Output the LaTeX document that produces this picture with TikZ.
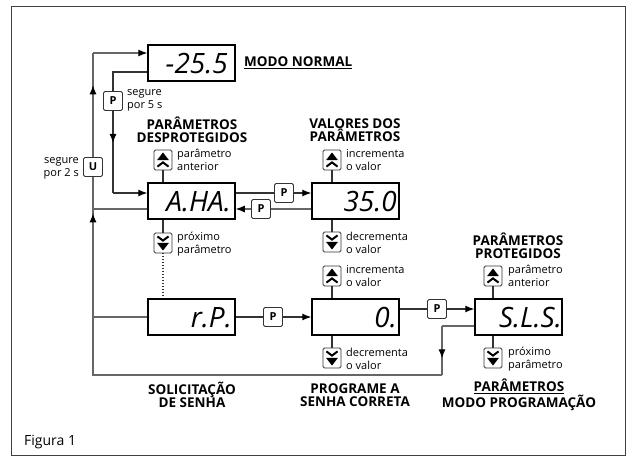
\documentclass[tikz,border=0pt]{standalone}
\usepackage{fontspec}
\setmainfont{Open Sans}
\usetikzlibrary{arrows.meta,decorations.markings}
\tikzset{
  disp/.style={draw=black, line width=1.5pt, minimum width=87pt, minimum height=36pt, inner sep=0pt},
  seg/.style={font=\fontsize{28}{28}\selectfont\itshape, anchor=base east, inner sep=0pt},
  conn/.style={draw=black!80, line width=1.1pt},
  ret/.style={draw=black!60, line width=1.1pt},
  arr/.style={-{Latex[length=9pt,width=7pt,color=black]}},
  marr/.style={postaction={decorate}, decoration={markings, mark=at position #1 with {\arrow{Latex[length=9pt,width=7pt,color=black]}}}},
  btn/.style={draw=black!80, fill=white, line width=0.8pt, rounded corners=1.5pt, minimum width=18pt, minimum height=20pt, inner sep=0pt},
  pbtn/.style={btn, minimum width=19pt, minimum height=19pt, font=\fontsize{11}{11}\selectfont\bfseries},
  upbtn/.style={btn, path picture={\begin{scope}[shift={(path picture bounding box.center)}, sharp corners]
      \fill[black] (-6,0.2) -- (6,0.2) -- (0,-7.5) -- cycle;
      \draw[black, line width=2pt, line join=miter] (-5.6,6.6) -- (0,2.4) -- (5.6,6.6);
    \end{scope}}},
  dnbtn/.style={btn, path picture={\begin{scope}[shift={(path picture bounding box.center)}, sharp corners]
      \fill[black] (-6,-0.2) -- (6,-0.2) -- (0,7.5) -- cycle;
      \draw[black, line width=2pt, line join=miter] (-5.6,-6.6) -- (0,-2.4) -- (5.6,-6.6);
    \end{scope}}},
  lbl/.style={anchor=west, align=left, font=\fontsize{11}{13}\selectfont, inner sep=0pt},
  hd/.style={align=center, font=\fontsize{13.5}{13.5}\selectfont\bfseries, inner sep=0pt},
}
\begin{document}
\begin{tikzpicture}[x=1pt,y=-1pt]
\useasboundingbox (0,0) rectangle (632,457);
\draw[black!75, line width=1pt] (11,7) rectangle (625,455);

% displays
\node[disp] (n25) at (191.5,63) {};
\node[seg] at (228,73.5) {-25.5};
\node[disp] (nAHA) at (191.5,201) {};
\node[seg] at (231,211.5) {A.HA.};
\node[disp] (n350) at (355.5,201) {};
\node[seg] at (397,211.5) {35.0};
\node[disp] (nrP) at (191.5,317) {};
\node[seg] at (232,327.5) {r.P.};
\node[disp] (n0) at (355.5,317) {};
\node[seg] at (397,327.5) {0.};
\node[disp] (nSLS) at (518.5,317) {};
\node[seg] at (562,327.5) {S.L.S.};

% coordinates
\coordinate (cT) at (93,53);
\coordinate (jA) at (93,209);
\coordinate (jR) at (93,317);
\coordinate (cB) at (93,375);
\coordinate (sB) at (442,375);
\coordinate (sA) at (442,326);
\coordinate (cI1) at (113,72);
\coordinate (cI2) at (113,193);

% return loop
\draw[ret] (nSLS.west |- sA) -- (sA);
\draw[ret, marr=0.66] (sA) -- (sB);
\draw[ret] (sB) -- (cB) -- (jR);
\draw[ret] (nrP.west) -- (jR);
\draw[ret, marr=0.96] (jR) -- (jA);
\draw[ret] (nAHA.west |- jA) -- (jA);

% keys
\node[pbtn] (P5) at (113,101) {P};
\node[pbtn] (U) at (93,167) {U};
\node[pbtn] (Pf) at (284,193) {P};
\node[pbtn] (Pb) at (261,209) {P};
\node[pbtn] (Pr) at (273,317) {P};
\node[pbtn] (Ps) at (437,309) {P};

\node[upbtn] (up1) at (163,160) {};
\node[dnbtn] (dn1) at (163,243) {};
\node[upbtn] (up2) at (332,160) {};
\node[dnbtn] (dn2) at (332,242) {};
\node[upbtn] (up3) at (332,276) {};
\node[dnbtn] (dn3) at (332,358) {};
\node[upbtn] (up4) at (493,276) {};
\node[dnbtn] (dn4) at (493,358) {};

\draw[ret] (jA) -- (U.south);
\draw[ret, marr=0.69] (U.north) -- (cT);
\draw[ret, arr] (cT) -- (cT -| n25.west);

% inner path
\draw[conn] (n25.west |- cI1) -- (cI1) -- (P5.north);
\draw[conn, marr=0.39] (P5.south) -- (cI2);
\draw[conn, arr] (cI2) -- (cI2 -| nAHA.west);

% top row
\draw[conn] (nAHA.east |- Pf) -- (Pf.west);
\draw[conn, arr] (Pf.east) -- (Pf.east -| n350.west);
\draw[ret] (n350.west |- Pb) -- (Pb.east);
\draw[ret, arr] (Pb.west) -- (Pb.west -| nAHA.east);

% bottom row
\draw[conn] (nrP.east) -- (Pr.west);
\draw[conn, arr] (Pr.east) -- (n0.west);
\draw[conn] (n0.east |- Ps) -- (Ps.west);
\draw[conn, arr] (Ps.east) -- (Ps.east -| nSLS.west);

% key stems
\draw[conn] (up1.south) -- (up1.south |- nAHA.north);
\draw[conn] (dn1.north) -- (dn1.north |- nAHA.south);
\draw[conn, dash pattern=on 1pt off 2pt] (dn1.south) -- (dn1.south |- nrP.north);
\draw[conn] (up2.south) -- (up2.south |- n350.north);
\draw[conn] (dn2.north) -- (dn2.north |- n350.south);
\draw[conn] (up3.south) -- (up3.south |- n0.north);
\draw[conn] (dn3.north) -- (dn3.north |- n0.south);
\draw[conn] (up4.south) -- (up4.south |- nSLS.north);
\draw[conn] (dn4.north) -- (dn4.north |- nSLS.south);

% labels
\node[lbl] at (177,160) {parâmetro\\anterior};
\node[lbl] at (346,160) {incrementa\\o valor};
\node[lbl] at (177,244) {próximo\\parâmetro};
\node[lbl] at (346,243) {decrementa\\o valor};
\node[lbl] at (346,276) {incrementa\\o valor};
\node[lbl] at (346,359) {decrementa\\o valor};
\node[lbl] at (508,276) {parâmetro\\anterior};
\node[lbl] at (508,359) {próximo\\parâmetro};
\node[lbl] at (127,100) {segure\\por 5 s};
\node[lbl, anchor=east, align=right] at (79,168) {segure\\por 2 s};

% headings
\node[hd] at (192,130) {PARÂMETROS\\DESPROTEGIDOS};
\node[hd] at (355,130) {VALORES DOS\\PARÂMETROS};
\node[hd] at (518,246) {PARÂMETROS\\PROTEGIDOS};
\node[hd] at (192,395) {SOLICITAÇÃO\\DE SENHA};
\node[hd] at (355,395) {PROGRAME A\\SENHA CORRETA};
\node[hd] at (519,395) {\underline{PARÂMETROS}\\MODO PROGRAMAÇÃO};
\node[hd, anchor=west] at (244,63) {\underline{MODO NORMAL}};
\node[anchor=west, font=\fontsize{14}{14}\selectfont, inner sep=0pt] at (24,442) {Figura 1};
\end{tikzpicture}
\end{document}
